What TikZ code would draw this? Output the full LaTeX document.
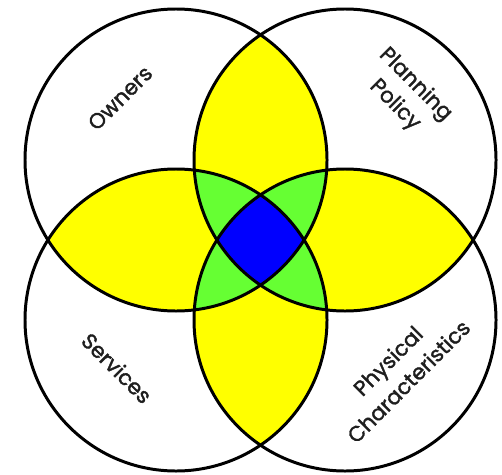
\documentclass[tikz,border=0pt]{standalone}
\usepackage{fontspec}
\setmainfont{Poppins}
\usepackage{xcolor}
\usepackage{tikz}
\usetikzlibrary{positioning}

\definecolor{lensyellow}{RGB}{255,255,0}
\definecolor{triplegreen}{RGB}{102,255,51}
\definecolor{coreblue}{RGB}{0,0,255}
\definecolor{labelgray}{RGB}{30,30,30}

\begin{document}
\begin{tikzpicture}[
    x=0.02cm, y=0.02cm,
    ring/.style={draw=black, line width=1.7pt},
    lbl/.style={align=center, text=labelgray,
        font=\fontsize{12.2}{16.5}\selectfont\addfontfeature{FakeBold=1.6}}
]
\useasboundingbox (0,0) rectangle (502,474);
\def\rad{151}
\coordinate (tl) at (176,314);
\coordinate (tr) at (345,314);
\coordinate (bl) at (176,154);
\coordinate (br) at (345,154);
% two sets
\foreach \a/\b in {tl/tr, tl/bl, tr/br, bl/br, tl/br, tr/bl} {
    \begin{scope}
        \clip (\a) circle[radius=\rad];
        \fill[lensyellow] (\b) circle[radius=\rad];
    \end{scope}
}
% three sets
\foreach \a/\b/\c in {tl/tr/bl, tl/tr/br, tl/bl/br, tr/bl/br} {
    \begin{scope}
        \clip (\a) circle[radius=\rad];
        \clip (\b) circle[radius=\rad];
        \fill[triplegreen] (\c) circle[radius=\rad];
    \end{scope}
}
% all four
\begin{scope}
    \clip (tl) circle[radius=\rad];
    \clip (tr) circle[radius=\rad];
    \clip (bl) circle[radius=\rad];
    \fill[coreblue] (br) circle[radius=\rad];
\end{scope}
\foreach \c in {tl,tr,bl,br}
    \draw[ring] (\c) circle[radius=\rad];
\node[lbl, rotate=45] (owners) at (120,376) {Owners};
\node[lbl, rotate=-45] (policy) at (405,379) {Planning\\Policy};
\node[lbl, rotate=-45] (services) at (117,106) {Services};
\node[lbl, rotate=45] (physical) at (398,103) {Physical\\Characteristics};
\end{tikzpicture}
\end{document}
